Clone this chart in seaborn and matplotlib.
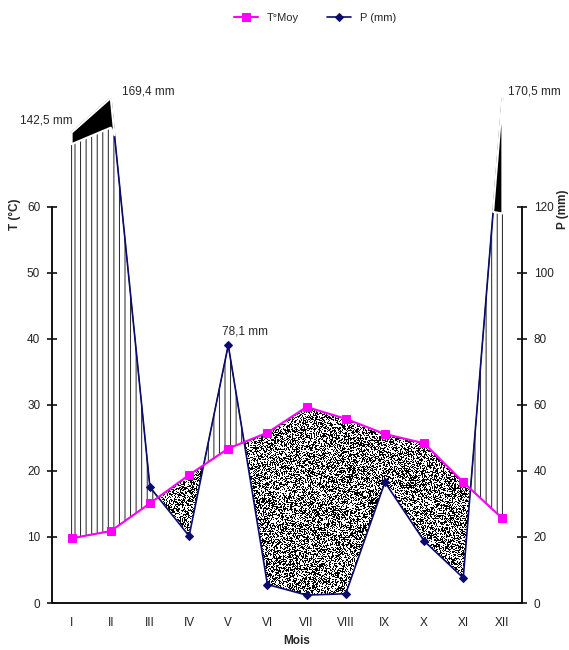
import numpy as np
import pandas as pd
import matplotlib
matplotlib.use('Agg')
import matplotlib.pyplot as plt
import seaborn as sns
from matplotlib.path import Path

mois = ['I', 'II', 'III', 'IV', 'V', 'VI', 'VII', 'VIII', 'IX', 'X', 'XI', 'XII']
temp = [9.8, 10.9, 15.1, 19.4, 23.4, 25.8, 29.7, 27.9, 25.6, 24.2, 18.3, 12.8]
precip = [142.5, 169.4, 35.1, 20.3, 78.1, 5.6, 2.4, 2.8, 36.6, 18.8, 7.6, 170.5]
# niveau de coupure au dessus duquel la pluie est noircie
seuil = [139, 144, 120, 120, 120, 120, 120, 120, 120, 120, 120, 118]
etiquettes = {0: '142,5 mm', 1: '169,4 mm', 4: '78,1 mm', 11: '170,5 mm'}

sns.set_style('white')
plt.rcParams['font.family'] = ['Liberation Sans', 'DejaVu Sans']
plt.rcParams['hatch.linewidth'] = 0.7
plt.rcParams['hatch.color'] = 'black'

t_max = 76.5  # haut du graphique en degres
p_max = 2 * t_max

x = np.arange(12)
T = np.array(temp)
P = np.minimum(np.array(precip), p_max)
S = np.array(seuil)
df = pd.DataFrame({'pos': x, 'T': T, 'P2': P / 2})

fig = plt.figure(figsize=(5.69, 6.5), dpi=100)
ax = fig.add_axes([0.0914, 0.0723, 0.826, 0.777])

# periode humide : hachures verticales
ax.fill_between(x, T, P / 2, where=P / 2 > T, interpolate=True,
                facecolor='none', edgecolor='#222222', linewidth=0.7,
                hatch='|||', zorder=1.5)

# periode seche : pointille
sec = ax.fill_between(x, T, P / 2, where=T > P / 2, interpolate=True,
                      facecolor='none', edgecolor='none', zorder=1.4)
H, W = 505, 470
ii, jj = np.mgrid[0:H, 0:W]
v = np.sin(ii * 12.9898 + jj * 78.233) * 43758.5453
tex = ((v - np.floor(v)) > 0.48).astype(float)
im = ax.imshow(tex, extent=(-0.5, 11.5, 0, t_max), aspect='auto', cmap='gray',
               interpolation='nearest', zorder=1.5)
im.set_clip_path(Path.make_compound_path(*sec.get_paths()), ax.transData)

# ligne des precipitations (marqueurs caches au dessus du seuil)
visibles = [i for i in x if precip[i] < seuil[i]]
sns.lineplot(data=df, x='pos', y='P2', ax=ax, color='#0b0b6e', linewidth=1.2,
             marker='D', markersize=4.5, markeredgecolor='#0b0b6e',
             markevery=visibles, label='P (mm)', zorder=2.5)

# partie au dessus du seuil en noir
ax.fill_between(x, S / 2, P / 2, where=P > S, interpolate=True,
                facecolor='black', edgecolor='white', linewidth=1.5, zorder=3)

# temperatures
sns.lineplot(data=df, x='pos', y='T', ax=ax, color='#ff00ff', linewidth=1.5,
             marker='s', markersize=6, markeredgecolor='#ff00ff',
             label='T°Moy', zorder=4)

decal = {0: (-18, 9), 1: (27, 5), 4: (12, 10), 11: (23, 5)}
for i, txt in etiquettes.items():
    ax.annotate(txt, (x[i], P[i] / 2), xytext=decal[i], textcoords='offset points',
                ha='center', va='center', fontsize=8.5, annotation_clip=False)

ax.set_xlim(-0.5, 11.5)
ax.set_ylim(0, t_max)
ax.set_xticks(x)
ax.set_xticklabels(mois)
ax.set_xticks(np.arange(-0.5, 12, 1), minor=True)
ax.tick_params(axis='x', which='major', length=0, pad=10, labelsize=8.5, labelcolor='#222222')
ax.tick_params(axis='x', which='minor', direction='inout', length=7, width=1.2, color='#111111')
ax.set_yticks(range(0, 61, 10))
ax.tick_params(axis='y', direction='inout', length=7, width=1.2, pad=5,
               labelsize=8.5, labelcolor='#222222', color='#111111', left=True)
ax.set_xlabel('')
ax.set_ylabel('')
ax.legend().remove()
handles, labels = ax.get_legend_handles_labels()

ax2 = ax.twinx()
ax2.set_ylim(0, p_max)
ax2.set_yticks(range(0, 121, 20))
ax2.tick_params(axis='y', direction='inout', length=7, width=1.2, pad=5,
                labelsize=8.5, labelcolor='#222222', color='#111111', right=True)

for a in (ax, ax2):
    a.spines['top'].set_visible(False)
    for s in ('left', 'right', 'bottom'):
        a.spines[s].set_linewidth(1.4)
        a.spines[s].set_color('#111111')
ax.spines['right'].set_visible(False)
ax2.spines['left'].set_visible(False)
ax2.spines['bottom'].set_visible(False)
ax.spines['left'].set_bounds(0, 60)
ax2.spines['right'].set_bounds(0, 120)

ax.text(-0.079, 0.770, 'T (°C)', transform=ax.transAxes, rotation=90,
        ha='center', va='center', fontsize=8.5, fontweight='bold')
ax.text(1.087, 0.780, 'P (mm)', transform=ax.transAxes, rotation=90,
        ha='center', va='center', fontsize=8.5, fontweight='bold')
fig.text(0.522, 0.0138, 'Mois', ha='center', va='center', fontsize=8.5, fontweight='bold')

# legende : T d'abord puis P
order = [labels.index('T°Moy'), labels.index('P (mm)')]
leg_h = [handles[k] for k in order]
fig.legend(leg_h, [labels[k] for k in order],
           loc='center', bbox_to_anchor=(0.554, 0.972), ncol=2, frameon=False,
           fontsize=8, handlelength=2.2, columnspacing=2.5)

fig.savefig('out.png', dpi=100)
